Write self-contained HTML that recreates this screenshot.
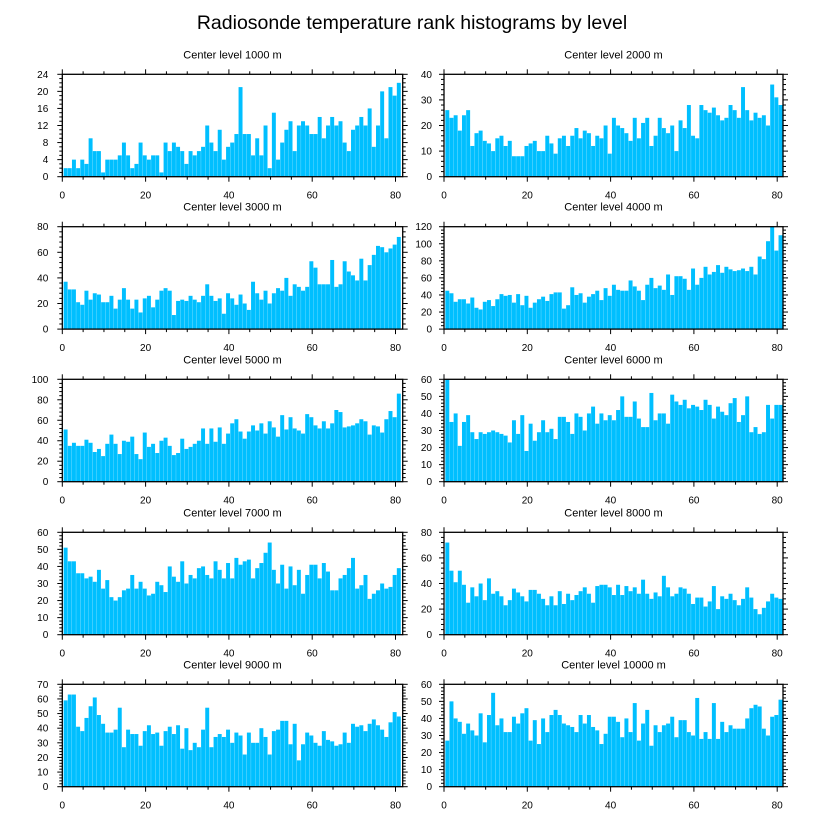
<!DOCTYPE html>
<html><head><meta charset="utf-8"><style>
html,body{margin:0;padding:0;background:#fff;}
svg{display:block;font-family:"Liberation Sans",sans-serif;}
</style></head><body>
<svg id="chart" width="824" height="824" viewBox="0 0 824 824" xmlns="http://www.w3.org/2000/svg">
<rect x="0" y="0" width="824" height="824" fill="#fff"/>
<text x="412" y="29" font-size="19.5" text-anchor="middle" fill="#000">Radiosonde temperature rank histograms by level</text>
</svg>
<script>
const panelTitles = ["Center level 1000 m","Center level 2000 m","Center level 3000 m","Center level 4000 m","Center level 5000 m","Center level 6000 m","Center level 7000 m","Center level 8000 m","Center level 9000 m","Center level 10000 m"];
const yMax = [24,40,80,120,100,60,60,80,70,60];
const yStep = [4,10,20,20,20,10,10,20,10,10];
const xTicks = [0,20,40,60,80];
const rank1000 = [2,2,4,2,4,3,9,6,6,1,4,4,4,5,8,5,2,3,8,5,4,5,5,1,8,6,8,7,6,3,6,5,6,7,12,8,6,11,4,7,8,10,21,10,10,5,9,5,12,2,15,4,8,11,13,6,12,13,12,10,10,14,9,12,14,12,13,8,6,11,12,14,12,16,7,12,20,9,21,19,22];
const rank2000 = [26,23,24,18,24,26,12,17,18,14,13,10,15,16,12,14,8,8,8,12,13,14,10,10,16,13,9,15,16,12,16,19,15,18,17,12,16,15,20,9,23,20,19,17,14,23,15,21,23,12,16,23,19,17,20,10,22,19,28,16,15,28,26,25,27,24,22,23,28,26,23,35,26,22,25,23,24,20,36,31,28];
const rank3000 = [37,31,31,21,19,30,23,28,27,21,21,26,16,23,32,23,16,23,13,24,26,17,23,30,32,30,11,22,23,22,26,23,21,26,35,26,22,24,12,28,24,19,27,20,15,37,28,23,30,20,28,32,30,40,26,35,33,30,33,53,48,35,35,35,54,33,35,53,45,42,38,55,38,50,58,65,64,60,63,66,72];
const rank4000 = [45,42,32,35,35,30,37,25,23,32,34,27,35,41,39,40,31,41,28,39,25,31,35,38,33,41,43,43,24,28,49,40,42,31,38,41,45,34,48,39,52,46,45,45,57,50,45,34,52,60,48,51,46,64,40,62,62,59,46,71,52,60,73,64,67,75,66,73,70,68,69,71,68,73,64,85,82,103,120,92,110];
const rank5000 = [51,35,38,35,35,41,38,29,32,25,37,46,37,27,40,39,44,27,22,48,34,37,28,40,43,35,26,28,42,32,34,37,40,52,37,52,39,53,37,47,57,61,49,42,49,55,50,57,47,59,53,44,65,51,63,52,50,47,66,63,55,52,59,52,57,70,68,53,54,55,57,61,59,46,55,54,48,61,69,63,86];
const rank6000 = [60,35,40,21,35,39,29,25,29,28,29,30,29,28,27,23,36,28,39,18,34,24,29,36,29,31,25,38,38,35,28,40,38,30,40,44,34,40,36,39,36,42,50,38,38,47,37,32,32,52,36,40,40,34,51,47,45,48,43,45,44,42,48,45,37,44,41,39,46,49,35,39,50,29,32,28,29,45,37,45,45];
const rank7000 = [51,43,43,36,36,33,34,31,38,27,32,22,20,22,26,27,35,27,31,27,23,24,31,29,25,40,34,31,43,30,35,33,39,40,35,33,43,38,33,42,33,45,41,43,44,33,39,42,48,54,38,30,41,27,40,29,38,24,35,41,41,33,42,37,26,26,33,35,39,45,27,29,35,21,24,26,30,27,28,35,39];
const rank8000 = [72,50,41,50,39,25,37,30,40,27,44,32,34,30,23,27,36,33,30,26,35,35,32,28,23,30,23,34,24,32,27,31,34,37,32,25,38,39,39,37,31,39,31,38,34,37,32,43,32,28,33,30,46,37,30,32,37,36,32,24,29,29,22,26,38,20,30,28,32,27,23,28,37,29,20,16,21,26,32,29,28];
const rank9000 = [59,63,63,41,38,47,55,61,49,43,37,37,39,54,27,39,36,36,28,38,42,36,37,28,38,41,36,42,26,40,25,30,27,39,54,27,34,36,34,39,30,37,35,22,37,30,30,40,34,22,38,39,45,45,29,43,18,29,37,35,30,28,38,32,31,28,29,37,30,43,41,42,38,43,46,42,39,34,44,51,48];
const rank10000 = [27,50,40,38,31,37,33,30,43,26,42,55,36,40,32,32,41,37,43,46,27,39,25,40,32,42,45,42,37,36,35,32,42,37,42,35,33,25,31,41,41,38,29,40,32,49,27,37,45,24,36,32,36,37,41,29,39,39,32,30,52,28,32,28,49,28,38,32,36,34,34,34,40,46,48,47,34,30,41,42,51];
const series = [rank1000,rank2000,rank3000,rank4000,rank5000,rank6000,rank7000,rank8000,rank9000,rank10000];

const NS = "http://www.w3.org/2000/svg";
const svg = document.getElementById("chart");
const lefts = [62.3, 444];
const rights = [402.7, 783];
const tops = [74.3, 226.7, 379.3, 532.3, 684.3];
const PH = 102.4;
const UNIT = 4.165;
function mk(tag, attrs, parent){
  const e = document.createElementNS(NS, tag);
  for (const k in attrs) e.setAttribute(k, attrs[k]);
  (parent||svg).appendChild(e);
  return e;
}
function xScale(p, v){ return lefts[p%2] + v*UNIT; }
function yScale(p, v){ return tops[Math.floor(p/2)] + PH - v/yMax[p]*PH; }

series.forEach((vals, p) => {
  const g = mk("g", {});
  
  
  const L = lefts[p%2], R = rights[p%2], T = tops[Math.floor(p/2)], B = T + PH;
  const t = mk("text", {x:(L+R)/2, y:T-16, "font-size":11, "text-anchor":"middle", fill:"#000"}, g);
  t.textContent = panelTitles[p];
  
  
  vals.forEach((v, k) => {
    const x0 = xScale(p, k + 0.32), x1 = xScale(p, k + 1.27);
    const y = yScale(p, v);
    const r = mk("rect", {x:x0, y:y, width:x1-x0, height:B-y, fill:"#00bfff"}, g);
    
    
  });
  for (let v = 0; v <= 80; v += 5) {
    const x = xScale(p, v);
    const len = (v % 20 === 0) ? 5 : 3;
    mk("line", {x1:x, y1:B, x2:x, y2:B+len, stroke:"#000", "stroke-width":1}, g);
    mk("line", {x1:x, y1:T, x2:x, y2:T-len, stroke:"#000", "stroke-width":1}, g);
  }
  xTicks.forEach(v => {
    const lb = mk("text", {x:xScale(p, v), y:B+22, "font-size":10, "text-anchor":"middle", fill:"#000"}, g);
    lb.textContent = v;
    
    
  });
  const step = yStep[p];
  const minor = step / (step === 4 ? 4 : 5);
  for (let v = 0; v <= yMax[p] + 1e-6; v += minor) {
    const y = yScale(p, v);
    const major = Math.abs(v/step - Math.round(v/step)) < 1e-6;
    const len = major ? 5 : 3;
    mk("line", {x1:L, y1:y, x2:L-len, y2:y, stroke:"#000", "stroke-width":1}, g);
    mk("line", {x1:R, y1:y, x2:R+len, y2:y, stroke:"#000", "stroke-width":1}, g);
  }
  for (let v = 0; v <= yMax[p]; v += step) {
    const lb = mk("text", {x:L-(p%2?12:14), y:yScale(p, v)+3.5, "font-size":10, "text-anchor":"end", fill:"#000"}, g);
    lb.textContent = v;
    
    
  }
  const box = mk("rect", {x:L, y:T, width:R-L, height:PH, fill:"none", stroke:"#000", "stroke-width":1.3}, g);
  
  
});
</script>
</body></html>
